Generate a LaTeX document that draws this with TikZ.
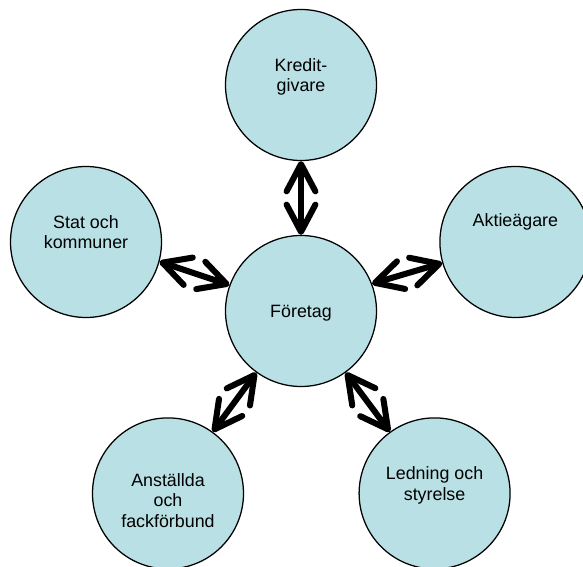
\documentclass[tikz,border=0pt]{standalone}
\usepackage{fontspec}
\setmainfont{Liberation Sans}
\usetikzlibrary{arrows.meta}
\definecolor{partyfill}{RGB}{185,224,228}

\begin{document}
\begin{tikzpicture}[
    party/.style={circle, draw, line width=0.9pt, fill=partyfill, minimum size=3.775cm, inner sep=0},
    partytext/.style={align=center, font=\fontsize{12.7}{14.7}\selectfont},
    flow/.style={line width=4.3pt, line cap=round, {Straight Barb[length=0.68cm, width=0.72cm, round]}-{Straight Barb[length=0.68cm, width=0.72cm, round]}}
]
                \useasboundingbox (-7.525,-6.4) rectangle (7.05,7.775);
                \clip (-7.525,-6.4) rectangle (7.05,7.775);

                \node[party](foretag) at (0,0) {};
                \node[party](kredit) at (0,5.65) {};
                \node[party](stat) at (-5.375,1.725) {};
                \node[party](aktie) at (5.36,1.725) {};
                \node[party](anstallda) at (-3.325,-4.56) {};
                \node[party](ledning) at (3.34,-4.56) {};

                \node[partytext](foretagText) at ([yshift=-0.05cm]foretag.center) {Företag};
                \node[partytext](kreditText) at ([yshift=0.2cm]kredit.center) {Kredit-\\givare};
                \node[partytext](statText) at ([yshift=0.25cm]stat.center) {Stat och\\kommuner};
                \node[partytext](aktieText) at ([yshift=0.5cm]aktie.center) {Aktieägare};
                \node[partytext](anstalldaText) at ([yshift=-0.175cm]anstallda.center) {Anställda\\och\\fackförbund};
                \node[partytext](ledningText) at ([yshift=0.2cm]ledning.center) {Ledning och\\styrelse};

                                \draw[flow] (kredit.-90) -- (foretag.90);
                                \draw[flow] (stat.-15) -- (foretag.160);
                                \draw[flow] (aktie.-164) -- (foretag.21.5);
                                \draw[flow] (anstallda.54) -- (foretag.-126.6);
                                \draw[flow] (ledning.126) -- (foretag.-54);

                   \end{tikzpicture}
\end{document}
